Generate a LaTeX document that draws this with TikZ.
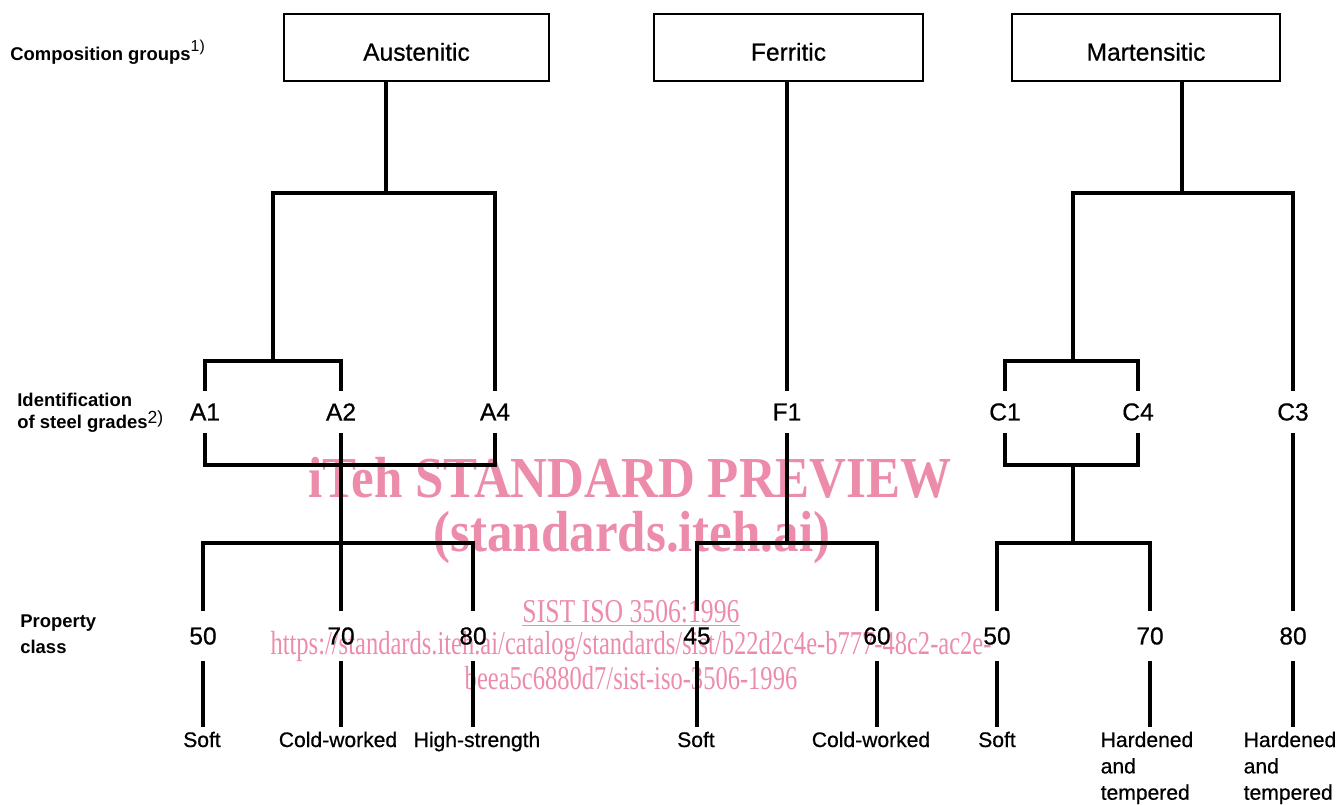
\documentclass[tikz,border=0pt]{standalone}
\usepackage{fontspec}
\usepackage{graphicx}
\setmainfont{Liberation Sans}
\newfontfamily\medfont{Liberation Sans}[FakeBold=0.6]
\newfontfamily\wmfont{Liberation Serif}
\definecolor{wmpink}{RGB}{237,140,170}

\begin{document}
\begin{tikzpicture}[x=0.02cm,y=-0.02cm]
    % Define styles for boxes, labels and lines
    \tikzstyle{group} = [draw, rectangle, line width=1.6pt, minimum width=5.3cm, minimum height=1.34cm, text height=15pt, text depth=0pt, font=\medfont\fontsize{14}{17}\selectfont]
    \tikzstyle{grade} = [inner xsep=2pt, inner ysep=7pt, font=\medfont\fontsize{14}{17}\selectfont]
    \tikzstyle{pclass} = [inner xsep=2pt, inner ysep=9pt, font=\medfont\fontsize{14}{17}\selectfont]
    \tikzstyle{desc} = [anchor=north, inner sep=2.5pt, align=left, font=\medfont\fontsize{12}{15}\selectfont]
    \tikzstyle{rowlabel} = [anchor=west, align=left, inner sep=0pt, font=\bfseries\fontsize{10.5}{12.5}\selectfont]
    \tikzstyle{tree} = [line width=2pt]
    \tikzstyle{wm} = [text=wmpink, inner sep=0pt]

    \useasboundingbox (0,0) rectangle (1337,804);

    % Watermark
    \node(wmA)[wm] at (630,478) {\wmfont\bfseries\fontsize{33}{36}\selectfont\scalebox{0.88}[1]{iTeh STANDARD PREVIEW}};
    \node(wmB)[wm] at (632,538) {\wmfont\bfseries\fontsize{33}{36}\selectfont\scalebox{0.88}[1]{(standards.iteh.ai)}};
    \node(wmC)[wm] at (631,613) {\wmfont\fontsize{19}{22}\selectfont\scalebox{0.77}[1]{\underline{SIST ISO 3506:1996}}};
    \node(wmD)[wm] at (631,647) {\wmfont\fontsize{19}{22}\selectfont\scalebox{0.735}[1]{https://standards.iteh.ai/catalog/standards/sist/b22d2c4e-b777-48c2-ac2e-}};
    \node(wmE)[wm] at (631,678) {\wmfont\fontsize{19}{22}\selectfont\scalebox{0.735}[1]{beea5c6880d7/sist-iso-3506-1996}};

    % Row labels
    \node(rowA)[rowlabel] at (10,52) {Composition groups\raisebox{5pt}{\mdseries\fontsize{9}{9}\selectfont 1)}};
    \node(rowB)[rowlabel] at (17,413) {Identification\\of steel grades\raisebox{3pt}{\mdseries\fontsize{10}{10}\selectfont 2)}};
    \node(rowC)[rowlabel, font=\bfseries\fontsize{10.5}{14.7}\selectfont] at (20,634) {Property\\class};

    % Composition groups
    \node(aust)[group] at (416.5,47.5) {Austenitic};
    \node(ferr)[group, minimum width=5.38cm] at (788.5,47.5) {Ferritic};
    \node(mart)[group, minimum width=5.36cm] at (1146,47.5) {Martensitic};

    % Steel grades
    \foreach \n/\xx in {A1/205,A2/341,A4/495,F1/787,C1/1005,C4/1138,C3/1293} {
        \node(\n)[grade] at (\xx,412) {\n};
      }

    % Property classes with their conditions
    \foreach \n/\xx/\val/\dx/\dtext in {a50/203/50/202/Soft, a70/341/70/338/Cold-worked, a80/473/80/477/High-strength,
        f45/697/45/696/Soft, f60/877/60/871/Cold-worked,
        m50/997/50/997/Soft, m70/1150/70/1147/Hardened\\and\\tempered, m80/1293/80/1290/Hardened\\and\\tempered} {
        \node(\n)[pclass] at (\xx,636) {\val};
        \node(d\n)[desc] at (\dx,727) {\dtext};
        \draw[tree] (\n.south) -- (\n.south |- d\n.north);
      }

    % Junctions
    \coordinate (austJ) at (386,193);
    \coordinate (a12) at (273,361);
    \coordinate (aBot) at (341,465);
    \coordinate (aMid) at (341,543);
    \coordinate (fMid) at (787,543);
    \coordinate (mJ) at (1182,193);
    \coordinate (c14) at (1073,361);
    \coordinate (cBot) at (1073,465);
    \coordinate (cMid) at (1073,543);

    % Austenitic tree
    \draw[tree] (aust.south -| austJ) -- (austJ);
    \draw[tree] (a12) |- (austJ) -| (A4.north);
    \draw[tree] (A1.north) |- (a12) -| (A2.north);
    \draw[tree] (A1.south) |- (aBot) -| (A4.south);
    \draw[tree] (A2.south) -- (a70.north);
    \draw[tree] (a50.north) |- (aMid) -| (a80.north);

    % Ferritic tree
    \draw[tree] (ferr.south -| F1.north) -- (F1.north);
    \draw[tree] (F1.south) -- (fMid);
    \draw[tree] (f45.north) |- (fMid) -| (f60.north);

    % Martensitic tree
    \draw[tree] (mart.south -| mJ) -- (mJ);
    \draw[tree] (c14) |- (mJ) -| (C3.north);
    \draw[tree] (C1.north) |- (c14) -| (C4.north);
    \draw[tree] (C1.south) |- (cBot) -| (C4.south);
    \draw[tree] (cBot) -- (cMid);
    \draw[tree] (m50.north) |- (cMid) -| (m70.north);
    \draw[tree] (C3.south) -- (m80.north);
\end{tikzpicture}
\end{document}
